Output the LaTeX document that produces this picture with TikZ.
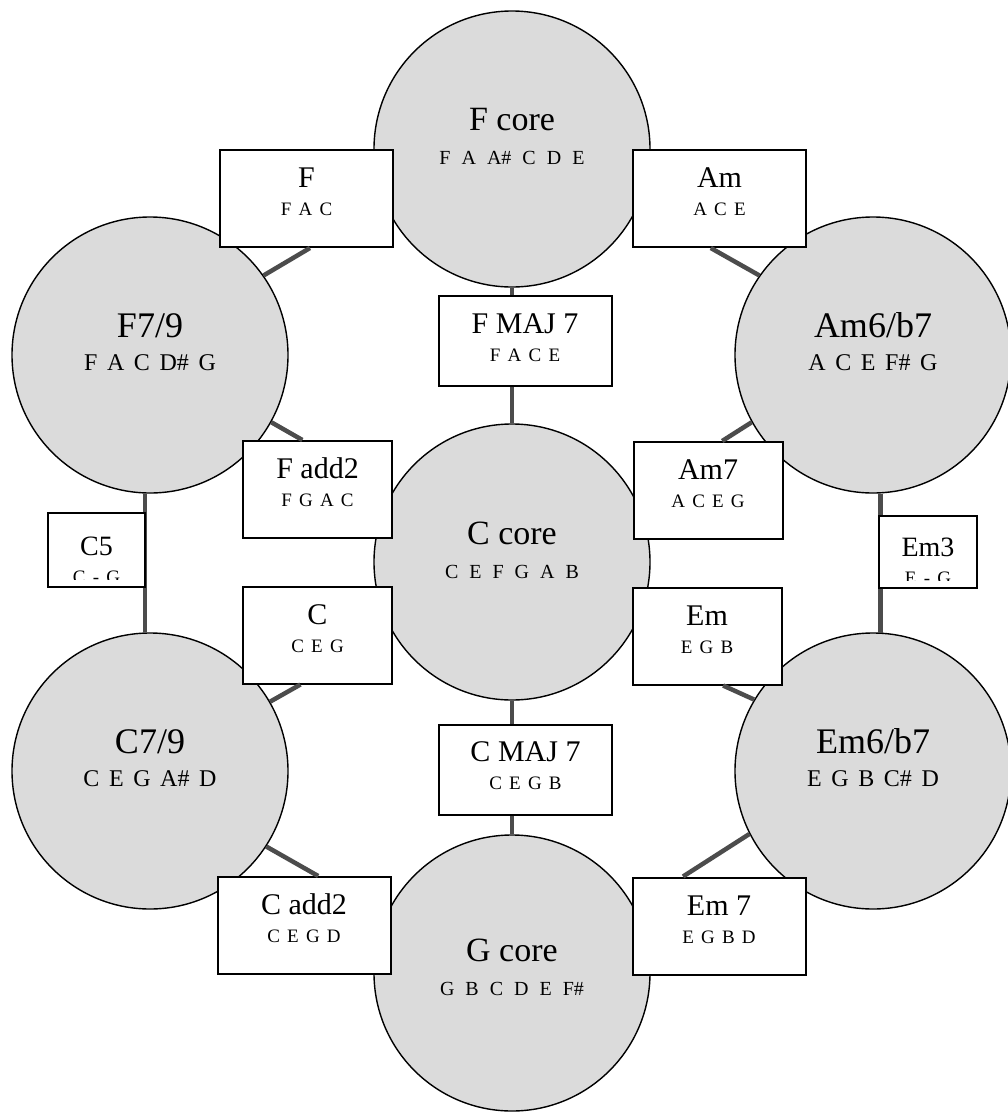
\documentclass[tikz,border=0pt]{standalone}
\usepackage{fontspec}
\setmainfont{Liberation Serif}
\tikzstyle{core}=[circle,draw=black,line width=1.4pt,fill=black!14,minimum size=276pt,inner sep=0pt]
\tikzstyle{chordbox}=[rectangle,draw=black,line width=2pt,fill=white,inner sep=0pt]
\tikzstyle{link}=[draw,line width=4.5pt,black!70]

\newcommand{\corefont}{\fontsize{34}{34}\selectfont}
\newcommand{\corenotesfont}{\fontsize{20}{20}\selectfont\spaceskip=0.55em\relax}
\newcommand{\outerfont}{\fontsize{36}{36}\selectfont}
\newcommand{\outernotesfont}{\fontsize{24}{24}\selectfont\spaceskip=0.4em\relax}
\newcommand{\boxfont}{\fontsize{30}{30}\selectfont}
\newcommand{\smallboxfont}{\fontsize{28}{28}\selectfont}
\newcommand{\boxnotesfont}{\fontsize{19}{19}\selectfont\spaceskip=0.38em\relax}
% name over notes, lower line lifted by #1, lines #2 apart
\newcommand{\chordtext}[4]{\raisebox{#1}[0pt][0pt]{\vbox{\baselineskip=#2\lineskiplimit=-100pt\halign{\hfil##\hfil\cr#3\cr#4\cr}}}}

\begin{document}
\begin{tikzpicture}[x=1pt,y=-1pt]
    \useasboundingbox (0,0) rectangle (1008,1112);

    \foreach \pos/\name/\lift/\chord/\tones in {(512,149)/fcore/-15pt/F core/F A A\# C D E,
    (512,562)/ccore/-16pt/C core/C E F G A B, (512,973)/gcore/-22pt/G core/G B C D E F\#}
        \node[core] (\name) at \pos {\chordtext{\lift}{34pt}{\corefont\chord}{\corenotesfont\tones}};

    \foreach \pos/\name/\chord/\tones in {(150,355)/f79/{F7/9}/F A C D\# G,
    (873,355)/amb7/{Am6/b7}/A C E F\# G, (150,771)/c79/{C7/9}/C E G A\# D,
    (873,771)/emb7/{Em6/b7}/E G B C\# D}
        \node[core] (\name) at \pos {\chordtext{-15pt}{33pt}{\outerfont\chord}{\outernotesfont\tones}};

    \path[link] (fcore) -- (ccore);
    \path[link] (ccore) -- (gcore);
    \path[link] (f79.-92.5) -- (c79.92.5);
    \path[link] (amb7.-87.5) -- (emb7.87.5);

    \foreach \pos/\name/\boxw/\boxh/\lift/\chord/\tones in
    {(306.5,198.5)/fbox/173/97/-17pt/F/F A C, (719.5,198.5)/ambox/173/97/-17pt/Am/A C E,
    (525,341)/fmajbox/173/90/-20pt/F MAJ 7/F A C E,
    (317.5,489.5)/faddbox/149/97/-17pt/F add2/F G A C, (708,490.5)/amsevbox/149/97/-17pt/Am7/A C E G,
    (317.5,635)/cbox/149/97/-17pt/C/C E G, (707,636)/embox/149/97/-17pt/Em/E G B,
    (525.5,769.5)/cmajbox/173/90/-20pt/C MAJ 7/C E G B,
    (304,925.5)/caddbox/173/97/-17pt/C add2/C E G D, (719,926)/emsevbox/173/97/-17pt/Em 7/E G B D}
        \node[chordbox,minimum width=\boxw pt,minimum height=\boxh pt] (\name) at \pos
            {\chordtext{\lift}{28pt}{\boxfont\chord}{\boxnotesfont\tones}};

    % the two small boxes cut off their notes
    \node[chordbox,minimum width=97pt,minimum height=74pt] (cfive) at (96.5,550) {};
    \begin{scope}
        \clip ([yshift=9pt]cfive.south west) rectangle (cfive.north east);
        \node[inner sep=0pt] (cfivetext) at (cfive) {\chordtext{-33pt}{28pt}{\smallboxfont C5}{\boxnotesfont C - G}};
    \end{scope}
    \node[chordbox,minimum width=98pt,minimum height=72pt] (emthree) at (928,552) {};
    \begin{scope}
        \clip ([yshift=9pt]emthree.south west) rectangle (emthree.north east);
        \node[inner sep=0pt] (emthreetext) at (emthree) {\chordtext{-32pt}{28pt}{\smallboxfont Em3}{\boxnotesfont E - G}};
    \end{scope}

    \foreach \source/\dest in {f79.35/fbox.-86, amb7.145/ambox.-100, f79.-29/faddbox.107,
    amb7.209/amsevbox.74, c79.30/cbox.251, emb7.149/embox.-72, c79.-33/caddbox.74, emb7.207/emsevbox.126}
        \path[link] (\source) -- (\dest);
\end{tikzpicture}
\end{document}
